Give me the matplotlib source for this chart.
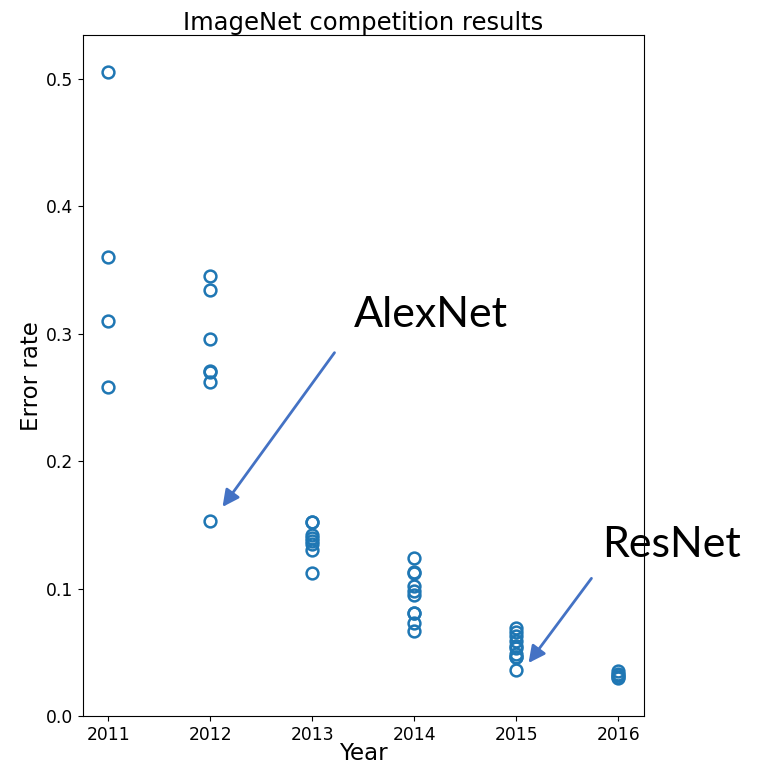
import matplotlib
matplotlib.use("Agg")
import matplotlib.pyplot as plt

years = [2011, 2012, 2013, 2014, 2015, 2016]
err_2011 = [0.505, 0.360, 0.310, 0.258]
err_2012 = [0.345, 0.334, 0.296, 0.271, 0.270, 0.262, 0.153]
err_2013 = [0.152, 0.152, 0.142, 0.140, 0.137, 0.135, 0.130, 0.112]
err_2014 = [0.124, 0.113, 0.112, 0.102, 0.098, 0.095, 0.081, 0.081, 0.073, 0.067]
err_2015 = [0.069, 0.066, 0.063, 0.059, 0.055, 0.053, 0.049, 0.046, 0.046, 0.036]
err_2016 = [0.035, 0.033, 0.032, 0.031, 0.030]
errors = [err_2011, err_2012, err_2013, err_2014, err_2015, err_2016]

fig = plt.figure(figsize=(7.57, 7.65), dpi=100)
ax = fig.add_axes([0.1096, 0.064, 0.7411, 0.890])

xs, ys = [], []
for yr, vals in zip(years, errors):
    xs += [yr] * len(vals)
    ys += vals
ax.plot(xs, ys, 'o', markerfacecolor='none', markeredgecolor='#1f77b4',
        markersize=8.5, markeredgewidth=1.8, linestyle='none')

ax.set_xlim(2010.75, 2016.25)
ax.set_ylim(0, 0.534)
ax.set_xticks(years)
ax.set_yticks([0.0, 0.1, 0.2, 0.3, 0.4, 0.5])
ax.tick_params(labelsize=12.3)
ax.set_xlabel('Year', fontsize=16.5, labelpad=-1)
ax.set_ylabel('Error rate', fontsize=16.5, labelpad=2)
ax.set_title('ImageNet competition results', fontsize=17.5, pad=3)

arrow = dict(arrowstyle='-|>', color='#4472C4', lw=2, mutation_scale=25,
             shrinkA=0, shrinkB=0)
ax.annotate('', xy=(2012.118, 0.164), xytext=(2013.216, 0.285), arrowprops=arrow)
ax.annotate('', xy=(2015.118, 0.0416), xytext=(2015.735, 0.108), arrowprops=arrow,
            annotation_clip=False)
ax.text(2014.157, 0.3145, 'AlexNet', fontsize=31, family='Lato',
        ha='center', va='center')
ax.text(2016.52, 0.134, 'ResNet', fontsize=31, family='Lato',
        ha='center', va='center', clip_on=False)

fig.savefig('out.png', dpi=100)
